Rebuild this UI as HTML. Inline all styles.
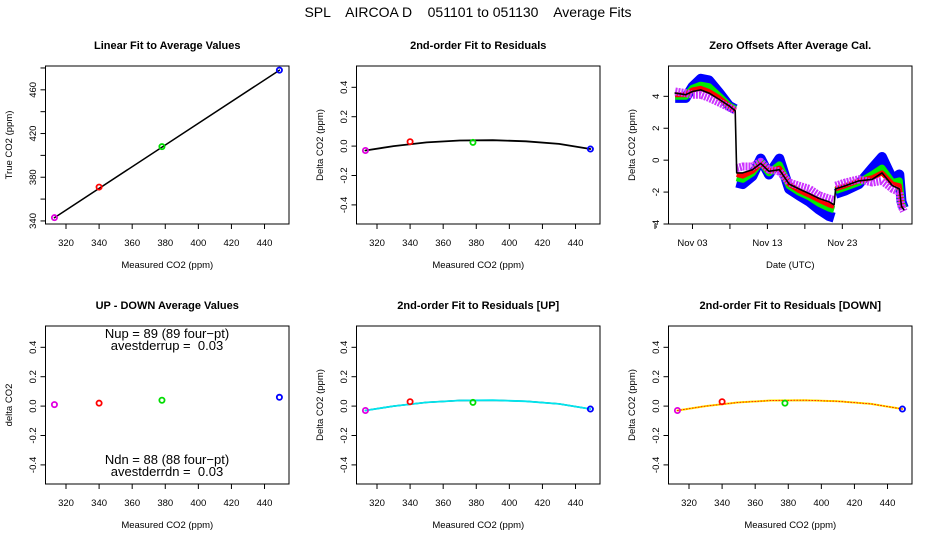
<!DOCTYPE html>
<html><head><meta charset="utf-8"><style>
body{margin:0;background:#fff}
svg{display:block;font-family:"Liberation Sans",sans-serif}
text{white-space:pre}
</style></head><body>
<svg id="c" width="936" height="540" xmlns="http://www.w3.org/2000/svg">
<text x="468" y="17" text-anchor="middle" font-size="14" xml:space="preserve">SPL    AIRCOA D    051101 to 051130    Average Fits</text>
</svg>
<script>
// ---- data ----
const calX = [313, 340, 378, 449];
const calColors = ['#e000e0', '#ff0000', '#00dd00', '#0000ff'];
const linTrue = [343, 371, 408, 478];
const residY = [-0.03, 0.03, 0.025, -0.02];
const residUpY = [-0.03, 0.03, 0.025, -0.02];
const residDnY = [-0.03, 0.03, 0.02, -0.02];
const updnY = [0.01, 0.02, 0.04, 0.06];
const fitX = [313, 330, 350, 370, 390, 410, 430, 449];
const fitY = [-0.03, 0.0, 0.025, 0.038, 0.04, 0.033, 0.015, -0.02];
const xTicks = [320, 340, 360, 380, 400, 420, 440];
const linYTicks = [340, 360, 380, 400, 420, 440, 460, 480];
const linYLabels = ['340', '', '380', '', '420', '', '460', ''];
const resTicks = [-0.4, -0.2, 0.0, 0.2, 0.4];
const resLabels = ['-0.4', '-0.2', '0.0', '0.2', '0.4'];
const days = [0.7,2.1,3,4.1,5.2,6.6,7.9,8.7,8.9,9.7,11,12.1,13.2,14.6,15.9,17.2,18.6,19.9,21.2,21.9,22.1,23.4,25.2,27,28.3,29.7,30.6,30.9,31.2];
const zBlack = [4.2,4.1,4.3,4.4,4.2,3.8,3.4,3.1,-0.8,-0.8,-0.6,-0.2,-0.7,-0.6,-1.5,-1.8,-2.1,-2.4,-2.6,-2.8,-1.8,-1.6,-1.3,-1.2,-0.8,-1.6,-1.8,-2.9,-3.1];
const zBlue = [3.9,3.9,4.6,5.1,5.0,4.2,3.4,3.2,-1.4,-1.5,-1.0,0.1,-0.9,0.1,-1.8,-2.2,-2.6,-3.1,-3.5,-3.6,-2.1,-1.9,-1.5,-0.5,0.2,-1.2,-0.9,-2.6,-3.0];
const zGreen = [4.0,4.0,4.5,4.7,4.6,4.0,3.4,3.2,-1.1,-1.2,-0.8,-0.1,-0.8,-0.3,-1.6,-2.0,-2.3,-2.7,-3.0,-3.1,-1.9,-1.7,-1.4,-0.9,-0.5,-1.4,-1.3,-2.7,-3.0];
const zRed = [4.1,4.1,4.4,4.5,4.3,3.9,3.4,3.1,-0.9,-1.0,-0.7,-0.2,-0.7,-0.5,-1.5,-1.9,-2.2,-2.5,-2.8,-2.9,-1.8,-1.6,-1.3,-1.1,-0.8,-1.5,-1.6,-2.8,-3.0];
const zMag = [4.3,4.2,4.1,4.1,3.9,3.6,3.3,3.1,-0.5,-0.4,-0.4,-0.1,-0.6,-0.7,-1.4,-1.6,-1.8,-2.2,-2.4,-2.5,-1.6,-1.4,-1.2,-1.4,-1.3,-1.8,-2.0,-2.9,-3.2];
const zGaps = [8, 20];
const dateTicks = [-2, 3, 8, 13, 18, 23, 28];
const dateLabels = ['', 'Nov 03', '', 'Nov 13', '', 'Nov 23', ''];
const zTicks = [-4, -2, 0, 2, 4];

const NS = 'http://www.w3.org/2000/svg';
const svg = document.getElementById('c');
function mk(tag, attrs, parent, txt) {
  const e = document.createElementNS(NS, tag);
  for (const k in attrs) e.setAttribute(k, attrs[k]);
  if (txt !== undefined) e.textContent = txt;
  (parent || svg).appendChild(e);
  return e;
}
function panel(ox, oy, title, xlab, ylab, xmin, xmax, ymin, ymax, xt, xl, yt, yl, name) {
  const L = ox + 45.5, R = ox + 289, T = oy + 66, B = oy + 224;
  const g = mk('g', {});
  
  
  const sx = v => L + (v - xmin) / (xmax - xmin) * (R - L);
  const sy = v => B - (v - ymin) / (ymax - ymin) * (B - T);
  const f = mk('rect', {x: L, y: T, width: R - L, height: B - T, fill: 'none', stroke: '#000', 'stroke-width': 1}, g);
  
  
  const t = mk('text', {x: (L + R) / 2, y: oy + 49, 'text-anchor': 'middle', 'font-size': 11, 'font-weight': 'bold'}, g, title);
  
  
  const xa = mk('text', {x: (L + R) / 2, y: oy + 268, 'text-anchor': 'middle', 'font-size': 9.5}, g, xlab);
  
  
  const yx = ox + 12, yy = (T + B) / 2;
  const ya = mk('text', {x: yx, y: yy, 'text-anchor': 'middle', 'font-size': 9.5, transform: `rotate(-90 ${yx} ${yy})`}, g, ylab);
  
  
  xt.forEach((v, i) => {
    const x = sx(v);
    mk('line', {x1: x, x2: x, y1: B, y2: B + 5, stroke: '#000'}, g);
    if (xl[i]) {
      const tl = mk('text', {x: x, y: oy + 246, 'text-anchor': 'middle', 'font-size': 9.5}, g, xl[i]);
      
      
    }
  });
  yt.forEach((v, i) => {
    const y = sy(v);
    mk('line', {x1: L - 5, x2: L, y1: y, y2: y, stroke: '#000'}, g);
    if (yl[i]) {
      const tx = ox + 36;
      const tl = mk('text', {x: tx, y: y, 'text-anchor': 'middle', 'font-size': 9.5, transform: `rotate(-90 ${tx} ${y})`}, g, yl[i]);
      
      
    }
  });
  return {g, sx, sy};
}
function pts(p, xs, ys) {
  xs.forEach((v, i) => {
    const c = mk('circle', {cx: p.sx(v), cy: p.sy(ys[i]), r: 2.6, fill: 'none', stroke: calColors[i], 'stroke-width': 1.8}, p.g);
    
    
  });
}
function line(p, xs, ys, color, w, dash, cap, gaps) {
  const d = xs.map((v, i) => ((i === 0 || (gaps && gaps.includes(i))) ? 'M' : 'L') + p.sx(v).toFixed(1) + ' ' + p.sy(ys[i]).toFixed(1)).join(' ');
  const a = {d: d, fill: 'none', stroke: color, 'stroke-width': w, 'stroke-linejoin': 'round', 'stroke-linecap': cap || 'round'};
  if (dash) a['stroke-dasharray'] = dash;
  const e = mk('path', a, p.g);
  
  
  return e;
}
const XMIN = 307.6, XMAX = 454.8;
const RMIN = -0.53, RMAX = 0.545;
// Panel 1
const p1 = panel(0, 0, 'Linear Fit to Average Values', 'Measured CO2 (ppm)', 'True CO2 (ppm)', XMIN, XMAX, 337.2, 481.8, xTicks, xTicks.map(String), linYTicks, linYLabels, 'linear-fit-panel');
line(p1, [calX[0], calX[3]], [linTrue[0], linTrue[3]], '#000', 1.5);
pts(p1, calX, linTrue);
// Panel 2
const p2 = panel(311, 0, '2nd-order Fit to Residuals', 'Measured CO2 (ppm)', 'Delta CO2 (ppm)', XMIN, XMAX, RMIN, RMAX, xTicks, xTicks.map(String), resTicks, resLabels, 'residual-fit-panel');
line(p2, fitX, fitY, '#000', 1.8);
pts(p2, calX, residY);
// Panel 3
const p3 = panel(623, 0, 'Zero Offsets After Average Cal.', 'Date (UTC)', 'Delta CO2 (ppm)', -0.2, 32.3, -4, 5.9, dateTicks, dateLabels, zTicks, zTicks.map(String), 'zero-offsets-panel');
line(p3, days, zBlue, '#0000ff', 10, null, 'butt', zGaps);
line(p3, days, zGreen, '#00ee00', 7, null, 'butt', zGaps);
line(p3, days, zRed, '#ff0000', 5, null, 'butt', zGaps);
line(p3, days, zMag, '#cc33ff', 8, '2 1', 'butt', zGaps);
line(p3, days, zBlack, '#000', 1.6);
// Panel 4
const p4 = panel(0, 260, 'UP - DOWN Average Values', 'Measured CO2 (ppm)', 'delta CO2', XMIN, XMAX, RMIN, RMAX, xTicks, xTicks.map(String), resTicks, resLabels, 'up-down-panel');
pts(p4, calX, updnY);
[['Nup = 89 (89 four\u2212pt)', 338], ['avestderrup =  0.03', 350], ['Ndn = 88 (88 four\u2212pt)', 464], ['avestderrdn =  0.03', 476]].forEach(a => {
  const t = mk('text', {x: 167, y: a[1], 'text-anchor': 'middle', 'font-size': 13}, p4.g, a[0]);
  
  
});
// Panel 5
const p5 = panel(311, 260, '2nd-order Fit to Residuals [UP]', 'Measured CO2 (ppm)', 'Delta CO2 (ppm)', XMIN, XMAX, RMIN, RMAX, xTicks, xTicks.map(String), resTicks, resLabels, 'residual-up-panel');
line(p5, fitX, fitY, '#000', 1.5);
line(p5, fitX, fitY, '#00e5ee', 1.8);
pts(p5, calX, residUpY);
// Panel 6
const p6 = panel(623, 260, '2nd-order Fit to Residuals [DOWN]', 'Measured CO2 (ppm)', 'Delta CO2 (ppm)', XMIN, XMAX, RMIN, RMAX, xTicks, xTicks.map(String), resTicks, resLabels, 'residual-down-panel');
line(p6, fitX, fitY, '#000', 1.5);
line(p6, fitX, fitY, '#ffee00', 2);
line(p6, fitX, fitY, '#ff2200', 1, '1 2');
pts(p6, calX, residDnY);
</script>
</body></html>
